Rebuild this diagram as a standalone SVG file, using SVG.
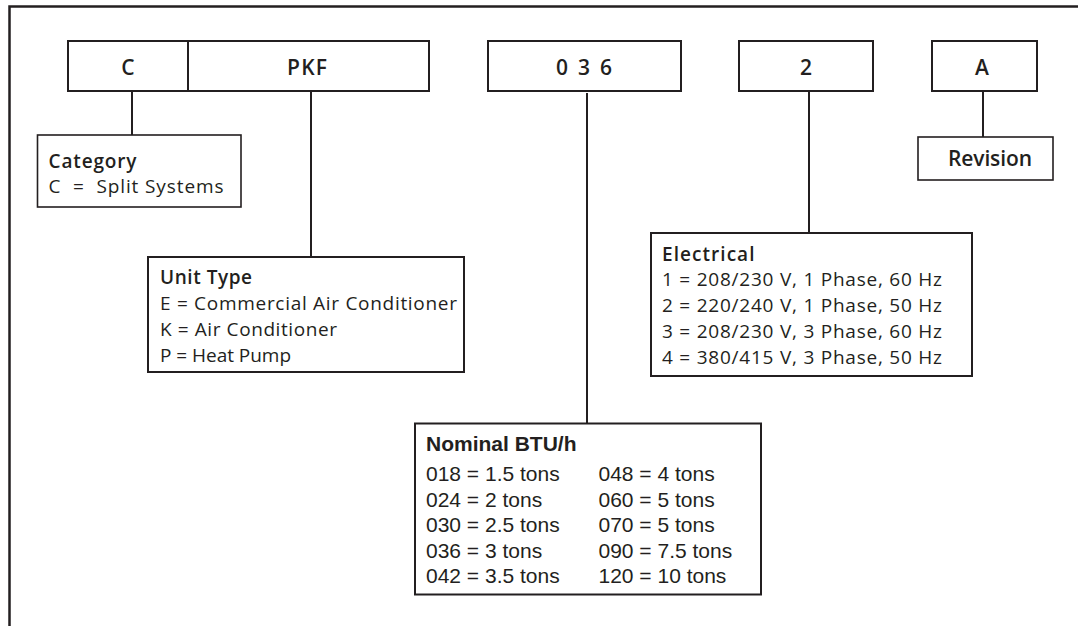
<svg xmlns="http://www.w3.org/2000/svg" width="1078" height="626" viewBox="0 0 1078 626">
<style>
.bg{fill:#ffffff}
.frame{fill:none;stroke:#231f20;stroke-width:2.5}
.box{fill:#ffffff;stroke:#231f20;stroke-width:2}
.thin{fill:#ffffff;stroke:#231f20;stroke-width:1.6}
.wire{fill:none;stroke:#231f20;stroke-width:2}
.code{font-family:"Open Sans","Liberation Sans",sans-serif;font-size:21px;font-weight:600;fill:#231f20;text-anchor:middle}
.head{font-family:"Open Sans","Liberation Sans",sans-serif;font-size:19px;font-weight:600;fill:#231f20}
.item{font-family:"Open Sans","Liberation Sans",sans-serif;font-size:19px;fill:#231f20}
.ahead{font-family:"Liberation Sans",Arial,sans-serif;font-size:21px;font-weight:bold;fill:#231f20}
.aitem{font-family:"Liberation Sans",Arial,sans-serif;font-size:21px;fill:#231f20}
</style>
<rect class="bg" x="0" y="0" width="1078" height="626"/>
<path class="frame" d="M9.5 626 V6.5 H1078"/>

<g id="connectors">
<line class="wire" x1="132" y1="91" x2="132" y2="135"/>
<line class="wire" x1="311" y1="91" x2="311" y2="257"/>
<line class="wire" x1="587" y1="93" x2="587" y2="423.5"/>
<line class="wire" x1="809" y1="91" x2="809" y2="233"/>
<line class="wire" x1="983" y1="91" x2="983" y2="137"/>
</g>

<g id="code-C">
<rect class="box" x="68" y="41" width="120" height="50"/>
<text class="code" x="128" y="75">C</text>
</g>
<g id="code-PKF">
<rect class="box" x="188" y="41" width="241" height="50"/>
<text class="code" x="307" y="75" textLength="40">PKF</text>
</g>
<g id="code-036">
<rect class="box" x="488" y="41" width="193" height="50"/>
<text class="code" x="584" y="75" textLength="56">0 3 6</text>
</g>
<g id="code-2">
<rect class="box" x="739" y="41" width="134" height="50"/>
<text class="code" x="806" y="75">2</text>
</g>
<g id="code-A">
<rect class="box" x="932" y="41" width="105" height="50"/>
<text class="code" x="982" y="75">A</text>
</g>

<g id="category">
<rect class="thin" x="37.5" y="135" width="203.5" height="72"/>
<text class="head" x="48.5" y="167.5" textLength="88">Category</text>
<text class="item" x="48.5" y="192.5" textLength="175" xml:space="preserve">C  =  Split Systems</text>
</g>

<g id="unit-type">
<rect class="box" x="148" y="257" width="316" height="115"/>
<text class="head" x="160" y="284" textLength="92">Unit Type</text>
<text class="item" x="160" y="310" textLength="297">E = Commercial Air Conditioner</text>
<text class="item" x="160" y="336" textLength="177">K = Air Conditioner</text>
<text class="item" x="160" y="362" textLength="131">P = Heat Pump</text>
</g>

<g id="electrical">
<rect class="box" x="651" y="233" width="321" height="143"/>
<text class="head" x="662" y="260.5" textLength="92.5">Electrical</text>
<text class="item" x="662" y="286" textLength="280">1 = 208/230 V, 1 Phase, 60 Hz</text>
<text class="item" x="662" y="312" textLength="280">2 = 220/240 V, 1 Phase, 50 Hz</text>
<text class="item" x="662" y="338" textLength="280">3 = 208/230 V, 3 Phase, 60 Hz</text>
<text class="item" x="662" y="364" textLength="280">4 = 380/415 V, 3 Phase, 50 Hz</text>
</g>

<g id="revision">
<rect class="thin" x="918" y="137" width="135" height="43"/>
<text class="code" x="990" y="166" textLength="84">Revision</text>
</g>

<g id="nominal-btu">
<rect class="box" x="415" y="423.5" width="346" height="171"/>
<text class="ahead" x="426" y="451">Nominal BTU/h</text>
<text class="aitem" x="426" y="481">018 = 1.5 tons</text>
<text class="aitem" x="426" y="506.5">024 = 2 tons</text>
<text class="aitem" x="426" y="532">030 = 2.5 tons</text>
<text class="aitem" x="426" y="557.5">036 = 3 tons</text>
<text class="aitem" x="426" y="583">042 = 3.5 tons</text>
<text class="aitem" x="598.5" y="481">048 = 4 tons</text>
<text class="aitem" x="598.5" y="506.5">060 = 5 tons</text>
<text class="aitem" x="598.5" y="532">070 = 5 tons</text>
<text class="aitem" x="598.5" y="557.5">090 = 7.5 tons</text>
<text class="aitem" x="598.5" y="583">120 = 10 tons</text>
</g>
</svg>
